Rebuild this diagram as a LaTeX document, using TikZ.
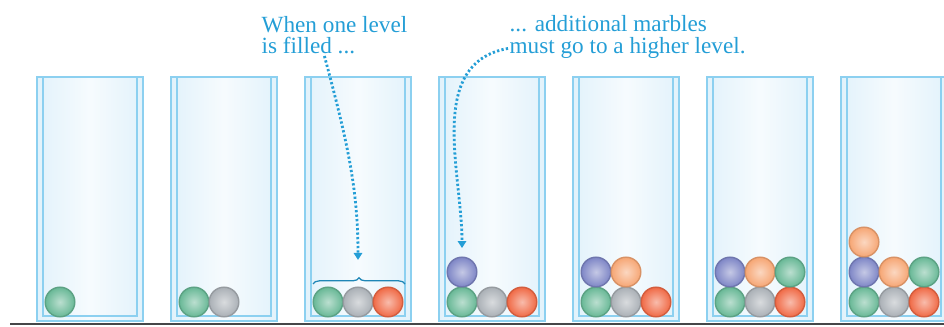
\documentclass[tikz,border=0pt]{standalone}
\usepackage{fontspec}
\setmainfont{Liberation Serif}
\usetikzlibrary{arrows.meta,decorations.pathreplacing}

\definecolor{legende}{RGB}{36,158,214}
\definecolor{verre}{RGB}{140,208,240}
\definecolor{vitre}{RGB}{226,242,251}
\definecolor{sol}{RGB}{70,70,72}
\definecolor{vert}{RGB}{104,184,150}
\definecolor{gris}{RGB}{170,176,182}
\definecolor{rouge}{RGB}{240,106,70}
\definecolor{bleu}{RGB}{126,134,198}
\definecolor{abricot}{RGB}{246,166,116}

\tikzset{
  bocal/.style={draw=verre, line width=1.6pt, minimum width=2.65cm,
    minimum height=6.1cm, left color=vitre, right color=vitre,
    middle color=white!70!vitre},
  bille/.style={circle, inner sep=0pt, minimum size=7.4mm, line width=1pt,
    draw=#1!88!black, inner color=#1!45!white, outer color=#1},
  texte/.style={text=legende, anchor=base west, inner sep=1pt,
    font=\fontsize{16.5}{18}\selectfont},
  fleche/.style={->, legende, line width=2pt, dash pattern=on 1.6pt off 1.6pt},
}

% un bocal : nom, bord gauche
\newcommand\bocal[2]{
  \node[bocal] (#1) at (#2+53, 199) {};
  \draw[verre, line width=1pt] (#2+6, 77) |- (#2+100, 316) -- (#2+100, 77);
}

\begin{document}
\begin{tikzpicture}[x=0.025cm, y=-0.025cm, >={Triangle[width=6pt,length=5pt]}]
  \useasboundingbox (0, 0) rectangle (944, 327);

  % bocaux, remplis niveau par niveau
  \foreach \i in {1,...,7} {
    \pgfmathsetmacro\xg{37+134*(\i-1)}
    \bocal{bocal\i}{\xg}
    \foreach \k/\c/\col/\lig in {1/vert/0/0, 2/gris/1/0, 3/rouge/2/0,
        4/bleu/0/1, 5/abricot/1/1, 6/vert/2/1, 7/abricot/0/2} {
      \ifnum\k>\i\else
        \node[bille=\c] (b\i-\k) at (\xg+23+30*\col, 302-30*\lig) {};
      \fi
    }
  }

  \draw[sol, line width=1.6pt] (10, 324) -- (944, 324);

  % niveau plein
  \draw[legende!85!black, line width=.9pt, decorate,
    decoration={brace, amplitude=4.5pt}] (313, 284) -- (405, 284);
  \coordinate (accolade) at (358, 274);

  \node[texte] (rempli1) at (260, 33) {When one level};
  \node[texte] (rempli2) at (260, 54) {is filled ...};
  \node[texte] (plus1) at (508, 32) {... additional marbles};
  \node[texte] (plus2) at (508, 54) {must go to a higher level.};

  \draw[fleche, shorten >=10pt] ([xshift=4mm]rempli2.south) to[out=-75, in=90] (accolade);
  \draw[fleche, shorten >=6pt] (plus2.west) to[out=190, in=90] (b4-4.north);
\end{tikzpicture}
\end{document}
